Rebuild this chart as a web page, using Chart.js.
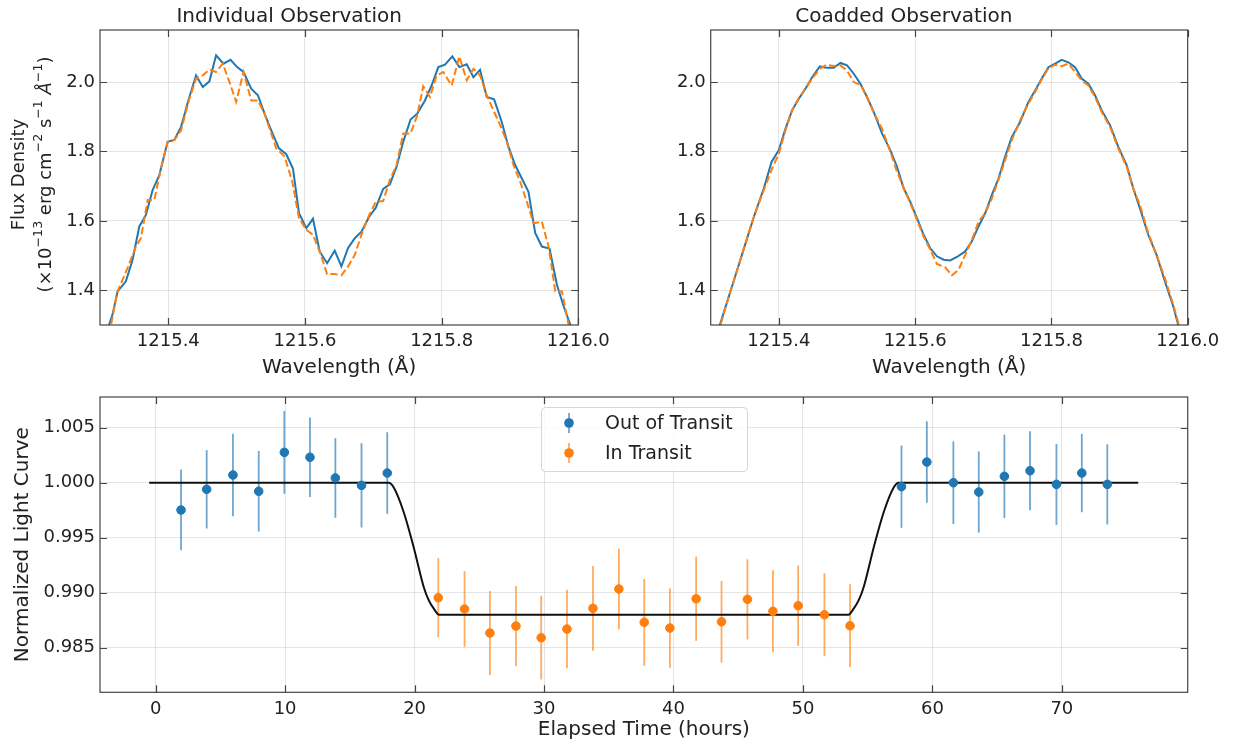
<!DOCTYPE html>
<html><head><meta charset="utf-8">
<script src="https://cdn.jsdelivr.net/npm/chart.js@4.4.1/dist/chart.umd.min.js"></script>
<style>
html,body{margin:0;padding:0;background:#fff;}
#wrap{position:relative;width:1233px;height:742px;overflow:hidden;background:#fff}
canvas{position:absolute;display:block}
</style></head><body>
<div id="wrap">
<canvas id="c1" width="620" height="390" style="left:0;top:0"></canvas>
<canvas id="c2" width="613" height="390" style="left:620px;top:0"></canvas>
<canvas id="c3" width="1233" height="362" style="left:0;top:380px"></canvas>
</div>
<script>
// ---------- DATA ----------
// Individual observation
const indWaveBlue = [1215.3086,1215.3183,1215.3257,1215.3379,1215.3477,1215.3575,1215.3672,1215.3770,1215.3868,1215.3990,1215.4088,1215.4186,1215.4308,1215.4406,1215.4504,1215.4601,1215.4699,1215.4807,1215.4910,1215.5007,1215.5100,1215.5213,1215.5311,1215.5408,1215.5506,1215.5619,1215.5726,1215.5824,1215.5912,1215.6020,1215.6117,1215.6215,1215.6323,1215.6435,1215.6533,1215.6631,1215.6729,1215.6826,1215.6939,1215.7037,1215.7144,1215.7242,1215.7340,1215.7438,1215.7545,1215.7643,1215.7756,1215.7853,1215.7951,1215.8049,1215.8157,1215.8259,1215.8367,1215.8465,1215.8562,1215.8660,1215.8768,1215.8880,1215.8978,1215.9076,1215.9174,1215.9271,1215.9369,1215.9467,1215.9579,1215.9687,1215.9785,1215.9883,1215.9932];
const indFluxBlue = [1.273,1.330,1.397,1.426,1.488,1.584,1.617,1.689,1.732,1.828,1.833,1.871,1.957,2.019,1.986,2.002,2.077,2.053,2.064,2.043,2.029,1.981,1.962,1.909,1.861,1.809,1.792,1.751,1.622,1.579,1.606,1.512,1.478,1.514,1.469,1.522,1.550,1.569,1.612,1.638,1.692,1.705,1.756,1.828,1.892,1.909,1.947,1.990,2.043,2.050,2.074,2.043,2.051,2.014,2.035,1.957,1.950,1.885,1.813,1.761,1.722,1.684,1.565,1.526,1.520,1.416,1.354,1.301,1.273];
const indWaveOrange = [1215.3134,1215.3257,1215.3403,1215.3526,1215.3599,1215.3697,1215.3795,1215.3892,1215.3990,1215.4088,1215.4186,1215.4308,1215.4406,1215.4504,1215.4601,1215.4699,1215.4797,1215.4895,1215.4993,1215.5100,1215.5213,1215.5311,1215.5408,1215.5506,1215.5580,1215.5702,1215.5814,1215.5912,1215.6020,1215.6117,1215.6215,1215.6323,1215.6435,1215.6533,1215.6631,1215.6729,1215.6826,1215.6939,1215.7037,1215.7144,1215.7242,1215.7340,1215.7438,1215.7545,1215.7643,1215.7731,1215.7829,1215.7927,1215.8024,1215.8147,1215.8259,1215.8367,1215.8465,1215.8562,1215.8660,1215.8758,1215.8856,1215.8954,1215.9051,1215.9149,1215.9247,1215.9345,1215.9467,1215.9565,1215.9663,1215.9760,1215.9858,1215.9907];
const indFluxOrange = [1.273,1.397,1.464,1.526,1.550,1.660,1.660,1.751,1.828,1.833,1.861,1.952,2.010,2.019,2.036,2.029,2.053,2.000,1.943,2.029,1.947,1.947,1.909,1.852,1.809,1.785,1.713,1.608,1.574,1.560,1.512,1.447,1.447,1.443,1.469,1.502,1.560,1.617,1.655,1.657,1.718,1.761,1.852,1.852,1.904,1.988,1.957,2.019,2.029,1.990,2.074,2.005,2.038,2.019,1.962,1.919,1.876,1.828,1.761,1.713,1.655,1.593,1.598,1.526,1.397,1.397,1.301,1.273];
// Coadded observation
const coWaveBlue = [1215.3096,1215.3136,1215.3267,1215.3390,1215.3512,1215.3634,1215.3780,1215.3893,1215.4000,1215.4098,1215.4195,1215.4293,1215.4391,1215.4488,1215.4601,1215.4698,1215.4806,1215.4904,1215.5001,1215.5099,1215.5197,1215.5294,1215.5392,1215.5514,1215.5636,1215.5734,1215.5832,1215.5929,1215.6027,1215.6125,1215.6222,1215.6320,1215.6418,1215.6515,1215.6613,1215.6735,1215.6833,1215.6930,1215.7028,1215.7126,1215.7223,1215.7321,1215.7419,1215.7541,1215.7663,1215.7761,1215.7858,1215.7956,1215.8054,1215.8151,1215.8249,1215.8347,1215.8444,1215.8542,1215.8640,1215.8737,1215.8860,1215.8982,1215.9104,1215.9201,1215.9299,1215.9421,1215.9543,1215.9665,1215.9787,1215.9860,1215.9909];
const coFluxBlue = [1.273,1.301,1.383,1.459,1.536,1.612,1.694,1.770,1.804,1.866,1.919,1.952,1.981,2.014,2.045,2.041,2.041,2.055,2.048,2.024,1.995,1.957,1.914,1.852,1.804,1.756,1.694,1.655,1.608,1.560,1.521,1.498,1.488,1.486,1.496,1.512,1.541,1.584,1.622,1.675,1.722,1.785,1.842,1.885,1.943,1.976,2.010,2.043,2.053,2.064,2.057,2.043,2.010,1.995,1.962,1.919,1.876,1.813,1.761,1.694,1.636,1.560,1.502,1.426,1.354,1.301,1.273];
const coWaveOrange = [1215.3096,1215.3145,1215.3267,1215.3390,1215.3512,1215.3634,1215.3780,1215.3902,1215.4000,1215.4098,1215.4195,1215.4293,1215.4391,1215.4488,1215.4601,1215.4698,1215.4806,1215.4904,1215.5001,1215.5099,1215.5197,1215.5294,1215.5392,1215.5514,1215.5636,1215.5734,1215.5832,1215.5929,1215.6027,1215.6125,1215.6222,1215.6320,1215.6442,1215.6540,1215.6637,1215.6735,1215.6833,1215.6930,1215.7028,1215.7126,1215.7223,1215.7321,1215.7419,1215.7541,1215.7663,1215.7761,1215.7858,1215.7956,1215.8054,1215.8151,1215.8249,1215.8347,1215.8444,1215.8542,1215.8640,1215.8737,1215.8860,1215.8982,1215.9104,1215.9201,1215.9299,1215.9421,1215.9543,1215.9665,1215.9787,1215.9870,1215.9919];
const coFluxOrange = [1.273,1.301,1.383,1.459,1.536,1.612,1.689,1.751,1.794,1.861,1.919,1.954,1.981,2.010,2.038,2.050,2.046,2.048,2.033,2.000,1.992,1.957,1.912,1.866,1.799,1.742,1.694,1.651,1.603,1.555,1.517,1.476,1.466,1.443,1.459,1.502,1.545,1.598,1.622,1.665,1.718,1.775,1.833,1.890,1.938,1.971,2.008,2.040,2.050,2.046,2.053,2.029,2.005,1.990,1.957,1.914,1.871,1.809,1.756,1.694,1.646,1.565,1.502,1.435,1.359,1.301,1.273];
const waveTicks = [1215.4,1215.6,1215.8,1216.0];
const fluxTicks = [1.4,1.6,1.8,2.0];

// Light curve
const outTime = [1.96,3.94,5.97,7.96,9.94,11.92,13.88,15.90,17.89,57.61,59.57,61.62,63.58,65.56,67.54,69.58,71.54,73.51];
const outFlux = [0.99752,0.99940,1.00070,0.99922,1.00276,1.00231,1.00043,0.99976,1.00088,0.99964,1.00188,1.00000,0.99915,1.00058,1.00109,0.99985,1.00088,0.99985];
const outErr  = [0.00367,0.00356,0.00374,0.00367,0.00377,0.00362,0.00362,0.00383,0.00371,0.00374,0.00370,0.00376,0.00370,0.00379,0.00359,0.00368,0.00356,0.00364];
const inTime = [21.83,23.86,25.82,27.83,29.78,31.77,33.78,35.78,37.74,39.72,41.75,43.71,45.71,47.68,49.63,51.66,53.64];
const inFlux = [0.98955,0.98852,0.98634,0.98697,0.98591,0.98670,0.98858,0.99034,0.98731,0.98679,0.98945,0.98736,0.98940,0.98831,0.98882,0.98800,0.98700];
const inErr  = [0.00359,0.00345,0.00382,0.00365,0.00380,0.00356,0.00386,0.00368,0.00394,0.00361,0.00383,0.00371,0.00364,0.00373,0.00365,0.00377,0.00376];
const modelTime = [-0.5,18.0,18.38,19.15,19.92,20.7,21.1,21.47,21.9,53.5,53.93,54.3,54.7,55.48,56.25,57.02,57.4,75.9];
const modelFlux = [1.0,1.0,0.99958,0.99736,0.99418,0.99055,0.98930,0.98858,0.98800,0.98800,0.98858,0.98930,0.99055,0.99418,0.99736,0.99958,1.0,1.0];
const timeTicks = [0,10,20,30,40,50,60,70];
const lcTicks = [0.985,0.990,0.995,1.000,1.005];

// ---------- STYLE / HELPERS ----------
const BLUE = '#1f77b4', ORANGE = '#ff7f0e', TXT = '#222';
const FONT = "'DejaVu Sans', sans-serif";
Chart.defaults.font.family = FONT;
Chart.defaults.color = TXT;

const pts = (xs, ys) => xs.map((x, i) => ({x, y: ys[i]}));

const framePlugin = {
  id: 'frame',
  afterDatasetsDraw(chart) {
    const {ctx, chartArea: a, scales} = chart;
    ctx.save();
    ctx.strokeStyle = '#444';
    ctx.lineWidth = 1.2;
    ctx.strokeRect(a.left, a.top, a.right - a.left, a.bottom - a.top);
    const tl = 7;
    ctx.beginPath();
    scales.x.ticks.forEach(t => {
      const p = Math.round(scales.x.getPixelForValue(t.value)) + 0.5;
      ctx.moveTo(p, a.bottom); ctx.lineTo(p, a.bottom - tl);
      ctx.moveTo(p, a.top); ctx.lineTo(p, a.top + tl);
    });
    scales.y.ticks.forEach(t => {
      const p = Math.round(scales.y.getPixelForValue(t.value)) + 0.5;
      ctx.moveTo(a.left, p); ctx.lineTo(a.left + tl, p);
      ctx.moveTo(a.right, p); ctx.lineTo(a.right - tl, p);
    });
    ctx.stroke();
    ctx.restore();
  }
};

// Y-axis label with real superscripts (text segments)
const fluxLabelPlugin = {
  id: 'fluxLabel',
  afterDraw(chart) {
    const {ctx, chartArea: a} = chart;
    const cy = (a.top + a.bottom) / 2 - 3;
    ctx.save();
    ctx.fillStyle = TXT;
    ctx.textBaseline = 'middle';
    // line 1
    ctx.save();
    ctx.translate(19, cy);
    ctx.rotate(-Math.PI / 2);
    ctx.font = '18px ' + FONT;
    ctx.textAlign = 'center';
    ctx.fillText('Flux Density', 0, 0);
    ctx.restore();
    // line 2 with superscripts
    const segs = [
      ['(×10', 0], ['−13', 1], [' erg cm', 0], ['−2', 1], [' s', 0], ['−1', 1], [' ', 0], ['Å', 2], ['−1', 1], [')', 0]
    ];
    const fontFor = k => k === 1 ? '12.6px ' + FONT : (k === 2 ? 'italic 18px ' + FONT : '18px ' + FONT);
    let total = 0;
    segs.forEach(s => { ctx.font = fontFor(s[1]); total += ctx.measureText(s[0]).width; });
    ctx.save();
    ctx.translate(46, cy);
    ctx.rotate(-Math.PI / 2);
    ctx.textAlign = 'left';
    let x = -total / 2;
    segs.forEach(s => {
      ctx.font = fontFor(s[1]);
      ctx.fillText(s[0], x, s[1] === 1 ? -7 : 0);
      x += ctx.measureText(s[0]).width;
    });
    ctx.restore();
    ctx.restore();
  }
};

const errorBarPlugin = {
  id: 'errbars',
  beforeDatasetsDraw(chart) {
    const {ctx, scales: {x, y}} = chart;
    chart.data.datasets.forEach(ds => {
      if (!ds.errors) return;
      ctx.save();
      ctx.strokeStyle = ds.errorColor;
      ctx.lineWidth = 1.8;
      ds.data.forEach((p, i) => {
        const px = x.getPixelForValue(p.x);
        ctx.beginPath();
        ctx.moveTo(px, y.getPixelForValue(p.y - ds.errors[i]));
        ctx.lineTo(px, y.getPixelForValue(p.y + ds.errors[i]));
        ctx.stroke();
      });
      ctx.restore();
    });
  }
};

const legendPlugin = {
  id: 'customLegend',
  afterDraw(chart) {
    const {ctx} = chart;
    const bx = 541, by = 27, bw = 206, bh = 64;
    ctx.save();
    ctx.beginPath();
    ctx.roundRect(bx + 0.5, by + 0.5, bw, bh, 4);
    ctx.fillStyle = 'rgba(255,255,255,0.8)';
    ctx.fill();
    ctx.strokeStyle = '#d6d6d6';
    ctx.lineWidth = 1;
    ctx.stroke();
    const items = chart.data.datasets.filter(d => d.errors);
    items.forEach((d, i) => {
      const mx = 569, my = by + 16 + i * 30;
      ctx.strokeStyle = d.errorColor; ctx.lineWidth = 1.8;
      ctx.beginPath(); ctx.moveTo(mx, my - 10); ctx.lineTo(mx, my + 10); ctx.stroke();
      ctx.fillStyle = d.backgroundColor;
      ctx.beginPath(); ctx.arc(mx, my, 4.8, 0, Math.PI * 2); ctx.fill();
      ctx.fillStyle = TXT;
      ctx.font = '19px ' + FONT;
      ctx.textBaseline = 'middle';
      ctx.fillText(d.label, 605, my + 1);
    });
    ctx.restore();
  }
};

function fixedTicks(values) {
  return s => { s.ticks = values.map(v => ({value: v})); };
}

function spectrumChart(id, title, datasets, yWidth, rightPad, withLabel) {
  return new Chart(document.getElementById(id), {
    type: 'scatter',
    data: {datasets},
    options: {
      responsive: false, animation: false, events: [],
      layout: {padding: {left: 0, top: 0, right: rightPad, bottom: 0}},
      plugins: {
        legend: {display: false}, tooltip: {enabled: false},
        title: {display: true, text: title, color: TXT,
                font: {size: 20, weight: 'normal'}, padding: {top: 5, bottom: 1}}
      },
      scales: {
        x: {
          type: 'linear', min: 1215.3, max: 1216.0,
          afterBuildTicks: fixedTicks(waveTicks),
          afterFit: s => { s.height = 65; },
          grid: {color: 'rgba(0,0,0,0.1)', drawTicks: false},
          border: {display: false},
          ticks: {font: {size: 18}, padding: 6, color: TXT, callback: v => v.toFixed(1)},
          title: {display: true, text: 'Wavelength (Å)', color: TXT, font: {size: 20}, padding: {bottom: 10}}
        },
        y: {
          type: 'linear', min: 1.30, max: 2.15,
          afterBuildTicks: fixedTicks(fluxTicks),
          afterFit: s => { s.width = yWidth; },
          grid: {color: 'rgba(0,0,0,0.1)', drawTicks: false},
          border: {display: false},
          ticks: {font: {size: 18}, padding: 5, color: TXT, callback: v => v.toFixed(1)}
        }
      }
    },
    plugins: withLabel ? [framePlugin, fluxLabelPlugin] : [framePlugin]
  });
}

const lineStyle = (data, color, dashed, order) => ({
  data, showLine: true, borderColor: color, backgroundColor: color,
  borderWidth: 2, pointRadius: 0, borderDash: dashed ? [7.4, 3.2] : [], order,
  tension: 0
});

spectrumChart('c1', 'Individual Observation', [
  lineStyle(pts(indWaveBlue, indFluxBlue), BLUE, false, 1),
  lineStyle(pts(indWaveOrange, indFluxOrange), ORANGE, true, 0)
], 100, 41.7, true);

spectrumChart('c2', 'Coadded Observation', [
  lineStyle(pts(coWaveBlue, coFluxBlue), BLUE, false, 1),
  lineStyle(pts(coWaveOrange, coFluxOrange), ORANGE, true, 0)
], 90.7, 45.3, false);

new Chart(document.getElementById('c3'), {
  type: 'scatter',
  data: {datasets: [
    {label: 'Out of Transit', data: pts(outTime, outFlux), errors: outErr,
     errorColor: 'rgba(31,119,180,0.65)', backgroundColor: BLUE, borderColor: BLUE,
     pointRadius: 4.3, borderWidth: 1, order: 0},
    {label: 'In Transit', data: pts(inTime, inFlux), errors: inErr,
     errorColor: 'rgba(255,127,14,0.65)', backgroundColor: ORANGE, borderColor: ORANGE,
     pointRadius: 4.3, borderWidth: 1, order: 1},
    {label: 'model', data: pts(modelTime, modelFlux), showLine: true,
     borderColor: '#111', borderWidth: 2, pointRadius: 0,
     cubicInterpolationMode: 'monotone', order: 2}
  ]},
  options: {
    responsive: false, animation: false, events: [],
    layout: {padding: {left: 0, top: 17, right: 45.3, bottom: 0}},
    plugins: {legend: {display: false}, tooltip: {enabled: false}},
    scales: {
      x: {
        type: 'linear', min: -4.3, max: 79.72,
        afterBuildTicks: fixedTicks(timeTicks),
        afterFit: s => { s.height = 49.7; },
        grid: {color: 'rgba(0,0,0,0.1)', drawTicks: false},
        border: {display: false},
        ticks: {font: {size: 18}, padding: 6, color: TXT, callback: v => String(v)},
        title: {display: true, text: 'Elapsed Time (hours)', color: TXT, font: {size: 20}, padding: {bottom: 0}}
      },
      y: {
        type: 'linear', min: 0.98095, max: 1.00779,
        afterBuildTicks: fixedTicks(lcTicks),
        afterFit: s => { s.width = 100; },
        grid: {color: 'rgba(0,0,0,0.1)', drawTicks: false},
        border: {display: false},
        ticks: {font: {size: 18}, padding: 5, color: TXT, callback: v => v.toFixed(3)},
        title: {display: true, text: 'Normalized Light Curve', color: TXT, font: {size: 20}, padding: {top: 11}}
      }
    }
  },
  plugins: [errorBarPlugin, framePlugin, legendPlugin]
});
</script>
</body></html>
